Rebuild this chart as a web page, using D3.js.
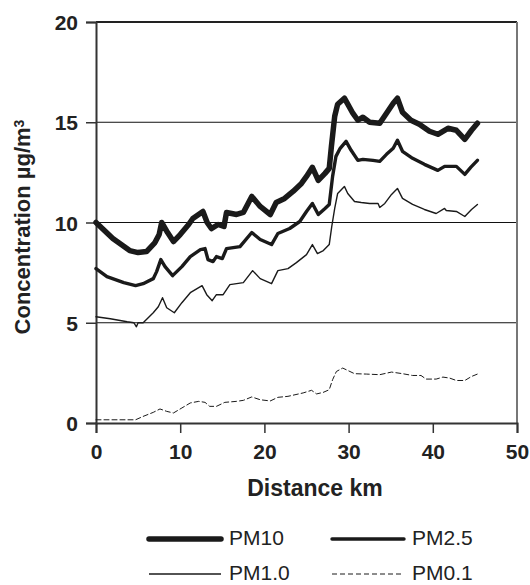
<!DOCTYPE html>
<html>
<head>
<meta charset="utf-8">
<script src="https://cdn.jsdelivr.net/npm/d3@7"></script>
<style>
  body { margin: 0; background: #fff; }
  svg { display: block; font-family: "Liberation Sans", Arial, sans-serif; }
  .tick text { font-size: 21px; font-weight: bold; fill: #222; }
</style>
</head>
<body>
<svg id="chart" width="530" height="585"></svg>
<script>
'use strict';

// Data: distance (km) / concentration (µg/m3)
const pm10 = [
  [0, 10.0], [1, 9.6], [2, 9.2], [3, 8.9], [4, 8.6], [5, 8.5], [6, 8.55], [7, 9.0],
  [7.5, 9.4], [7.8, 10.0], [8.5, 9.5], [9.2, 9.05], [10, 9.4], [11, 9.9], [11.5, 10.2],
  [12.7, 10.55], [13.2, 10.0], [13.7, 9.7], [14.5, 9.9], [15.2, 9.8], [15.5, 10.5],
  [16.7, 10.4], [17.5, 10.5], [18.5, 11.3], [19.5, 10.8], [20.7, 10.4], [21.4, 11.0],
  [22.4, 11.2], [23.4, 11.55], [24.4, 11.95], [25.0, 12.3], [25.7, 12.75], [26.4, 12.1],
  [27.2, 12.45], [27.7, 12.7], [27.96, 13.8], [28.35, 15.3], [28.7, 15.9], [29.5, 16.2],
  [29.9, 15.9], [30.5, 15.45], [31.1, 15.1], [31.7, 15.25], [32.5, 15.0], [33.7, 14.95],
  [34.5, 15.45], [35.3, 15.95], [35.8, 16.2], [36.4, 15.5], [37.4, 15.1], [38.4, 14.9],
  [39.6, 14.55], [40.6, 14.4], [41.8, 14.7], [42.8, 14.6], [43.8, 14.15], [44.6, 14.6],
  [45.3, 14.95]
];

const pm25 = [
  [0, 7.7], [1.3, 7.3], [3.3, 7.0], [4.7, 6.85], [5.6, 6.95], [6.8, 7.2], [7.2, 7.55],
  [7.7, 8.15], [8.2, 7.8], [9.1, 7.35], [10.2, 7.8], [11.2, 8.3], [12.4, 8.65],
  [12.95, 8.7], [13.3, 8.15], [13.9, 8.05], [14.3, 8.3], [15.0, 8.2], [15.5, 8.7],
  [17.1, 8.8], [18.5, 9.5], [19.5, 9.15], [20.85, 8.9], [21.6, 9.45], [23.0, 9.7],
  [24.2, 10.05], [25.0, 10.55], [25.7, 10.95], [26.4, 10.4], [27.2, 10.7], [27.7, 10.9],
  [28.1, 12.3], [28.5, 13.3], [29.0, 13.7], [29.7, 14.05], [30.3, 13.6], [31.1, 13.1],
  [31.7, 13.15], [32.9, 13.1], [33.7, 13.05], [34.5, 13.4], [35.3, 13.7], [35.8, 14.1],
  [36.4, 13.55], [37.6, 13.2], [39.0, 12.9], [40.6, 12.6], [41.4, 12.8], [42.8, 12.8],
  [43.8, 12.4], [44.5, 12.75], [45.3, 13.1]
];

const pm10s = [
  [0, 5.3], [1.7, 5.2], [3.7, 5.05], [4.5, 5.0], [4.8, 4.8], [5.0, 5.0], [5.6, 5.0],
  [6.8, 5.5], [7.4, 5.8], [7.9, 6.25], [8.4, 5.75], [9.3, 5.5], [10.2, 6.0], [11.2, 6.5],
  [12.6, 6.85], [13.15, 6.4], [13.8, 6.1], [14.3, 6.4], [15.1, 6.4], [15.9, 6.9],
  [17.5, 7.0], [18.6, 7.6], [19.5, 7.2], [20.85, 6.95], [21.6, 7.6], [22.8, 7.7],
  [23.8, 8.0], [25.0, 8.4], [25.7, 8.9], [26.3, 8.45], [27.0, 8.6], [27.7, 8.9],
  [28.0, 9.8], [28.35, 10.7], [28.7, 11.45], [29.5, 11.8], [29.9, 11.45], [30.7, 11.05],
  [31.5, 11.0], [32.5, 10.95], [33.5, 10.95], [33.7, 10.75], [34.3, 10.95], [35.1, 11.4],
  [35.8, 11.7], [36.4, 11.2], [37.6, 10.9], [39.0, 10.65], [40.4, 10.45], [41.4, 10.7],
  [41.6, 10.6], [42.8, 10.55], [43.8, 10.3], [44.6, 10.65], [45.3, 10.9]
];

const pm01 = [
  [0, 0.16], [4.7, 0.16], [5.6, 0.33], [6.8, 0.53], [7.6, 0.7], [8.4, 0.58], [9.2, 0.5],
  [10.2, 0.75], [11.2, 1.0], [12.2, 1.08], [12.95, 1.03], [13.5, 0.83], [14.3, 0.83],
  [15.3, 1.03], [16.7, 1.08], [17.5, 1.13], [18.5, 1.3], [19.5, 1.16], [20.7, 1.1],
  [21.6, 1.28], [22.8, 1.33], [24.6, 1.5], [25.6, 1.63], [26.2, 1.45], [27.0, 1.53],
  [27.7, 1.66], [28.1, 2.16], [28.55, 2.57], [29.3, 2.74], [29.9, 2.62], [30.7, 2.46],
  [32.1, 2.44], [33.7, 2.41], [35.1, 2.54], [36.4, 2.46], [37.6, 2.37], [38.6, 2.37],
  [39.2, 2.19], [40.4, 2.19], [41.2, 2.29], [42.0, 2.24], [42.8, 2.12], [43.8, 2.12],
  [44.6, 2.32], [45.3, 2.44]
];

const xTicks = [0, 10, 20, 30, 40, 50];
const yTicks = [0, 5, 10, 15, 20];
const gridValues = [5, 10, 15];

const seriesNames = ['PM10', 'PM2.5', 'PM1.0', 'PM0.1'];
const seriesData = [pm10, pm25, pm10s, pm01];
const seriesStyle = [
  { width: 5.5, dash: null },
  { width: 3.4, dash: null },
  { width: 1.4, dash: null },
  { width: 1, dash: '5,3' }
];

const svg = d3.select('#chart');
const margin = { left: 96, top: 22, right: 13, bottom: 162 };
const width = 530 - margin.left - margin.right;
const height = 585 - margin.top - margin.bottom;

const x = d3.scaleLinear().domain([0, 50]).range([0, width]);
const y = d3.scaleLinear().domain([0, 20]).range([height, 0]);

const g = svg.append('g').attr('transform', `translate(${margin.left},${margin.top})`);

// Gridlines
g.append('g')
  .selectAll('line')
  .data(gridValues)
  .join('line')
    .attr('x1', 0).attr('x2', width)
    .attr('y1', d => y(d)).attr('y2', d => y(d))
    .attr('stroke', '#111').attr('stroke-width', 1);

// Frame: top and right
g.append('line').attr('x1', 0).attr('x2', width).attr('y1', 0).attr('y2', 0)
  .attr('stroke', '#222').attr('stroke-width', 2);
g.append('line').attr('x1', width).attr('x2', width).attr('y1', 0).attr('y2', height)
  .attr('stroke', '#777').attr('stroke-width', 2);

// Axes
const xAxis = g.append('g')
  .attr('transform', `translate(0,${height})`)
  .call(d3.axisBottom(x).tickValues(xTicks).tickSize(10).tickPadding(11));
const yAxis = g.append('g')
  .call(d3.axisLeft(y).tickValues(yTicks).tickSize(10).tickPadding(8));

[xAxis, yAxis].forEach(ax => {
  ax.select('.domain').attr('stroke', '#333').attr('stroke-width', 2);
  ax.selectAll('.tick line').attr('stroke', '#333').attr('stroke-width', 1.5);
});
yAxis.selectAll('.tick text').attr('dy', '0.36em');

// Series lines
const line = d3.line().x(d => x(d[0])).y(d => y(d[1])).curve(d3.curveLinear);
g.append('g')
  .selectAll('path')
  .data(seriesData)
  .join('path')
    .attr('d', line)
    .attr('fill', 'none')
    .attr('stroke', '#1a1a1a')
    .attr('stroke-linejoin', 'round')
    .attr('stroke-linecap', 'round')
    .attr('stroke-width', (d, i) => seriesStyle[i].width)
    .attr('stroke-dasharray', (d, i) => seriesStyle[i].dash);

// Axis titles
svg.append('text')
  .attr('transform', 'translate(30,227) rotate(-90)')
  .attr('text-anchor', 'middle')
  .style('font-size', '22px').style('font-weight', 'bold').style('fill', '#222')
  .call(t => {
    t.append('tspan').text('Concentration µg/m');
    t.append('tspan').attr('dy', '-0.45em').style('font-size', '14px').text('3');
  });

svg.append('text')
  .attr('x', 315).attr('y', 496)
  .attr('text-anchor', 'middle')
  .style('font-size', '23px').style('font-weight', 'bold').style('fill', '#222')
  .text('Distance km');

// Legend (bottom row lifted a little so its text stays inside the picture)
const legendPos = [[149, 539], [332, 539], [149, 574], [332, 574]];
const legend = svg.append('g')
  .selectAll('g')
  .data(seriesNames)
  .join('g')
    .attr('transform', (d, i) => `translate(${legendPos[i][0]},${legendPos[i][1]})`);

legend.append('line')
  .attr('x1', 0).attr('x2', 72)
  .attr('stroke', '#1a1a1a')
  .attr('stroke-linecap', (d, i) => i < 2 ? 'round' : 'butt')
  .attr('stroke-width', (d, i) => seriesStyle[i].width)
  .attr('stroke-dasharray', (d, i) => seriesStyle[i].dash);

legend.append('text')
  .attr('x', 80).attr('y', 6)
  .style('font-size', '21px').style('fill', '#222')
  .text(d => d);
</script>
</body>
</html>
